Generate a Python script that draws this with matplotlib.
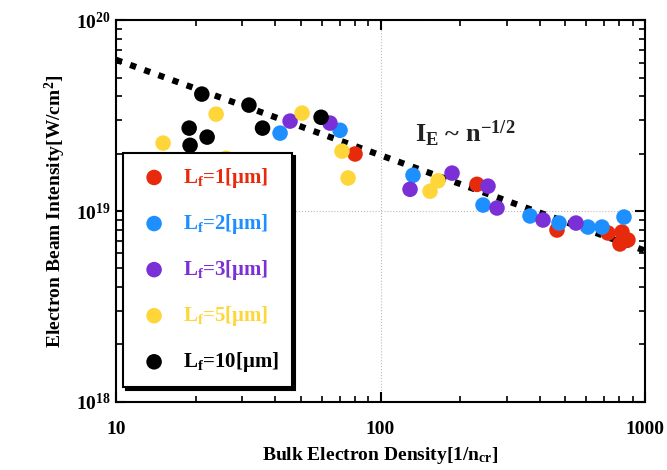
import matplotlib
matplotlib.use("Agg")
import matplotlib.pyplot as plt
import numpy as np

plt.rcParams['font.family'] = ['Liberation Serif', 'DejaVu Serif']
plt.rcParams['font.weight'] = 'bold'
plt.rcParams['mathtext.fontset'] = 'custom'
plt.rcParams['mathtext.rm'] = 'Liberation Serif:bold'
plt.rcParams['mathtext.it'] = 'Liberation Serif:bold'
plt.rcParams['mathtext.bf'] = 'Liberation Serif:bold'

# данные
n_1 = [80.1, 231.6, 464.8, 724.5, 818.6, 862, 804]
i_1 = [1.99e19, 1.38e19, 7.95e18, 7.67e18, 7.76e18, 7.05e18, 6.72e18]

n_2 = [41.7, 70.3, 132.7, 244.1, 367.5, 473, 608.7, 687.8, 833]
i_2 = [2.56e19, 2.65e19, 1.54e19, 1.075e19, 9.42e18, 8.65e18, 8.24e18, 8.24e18, 9.30e18]

n_3 = [45.5, 64.4, 129.3, 186.4, 254.9, 275.7, 411.6, 548.4]
i_3 = [2.96e19, 2.89e19, 1.30e19, 1.58e19, 1.35e19, 1.037e19, 8.97e18, 8.65e18]

n_5 = [15.06, 23.9, 26.05, 50.5, 71.5, 75.4, 153.9, 165]
i_5 = [2.27e19, 3.22e19, 1.89e19, 3.26e19, 2.06e19, 1.49e19, 1.27e19, 1.44e19]

n_10 = [18.9, 19.05, 21.1, 22.1, 31.8, 35.8, 59.6]
i_10 = [2.72e19, 2.21e19, 4.10e19, 2.44e19, 3.59e19, 2.72e19, 3.10e19]

fit_n = [10, 1000]
fit_i = [6.2e19, 6.2e18]

series = [
    (n_1, i_1, '#e82a0c', r'$\mathrm{L_f}$=1[μm]'),
    (n_2, i_2, '#1e8fff', r'$\mathrm{L_f}$=2[μm]'),
    (n_3, i_3, '#7a30d6', r'$\mathrm{L_f}$=3[μm]'),
    (n_5, i_5, '#ffd63a', r'$\mathrm{L_f}$=5[μm]'),
    (n_10, i_10, '#000000', r'$\mathrm{L_f}$=10[μm]'),
]

fig = plt.figure(figsize=(6.67, 4.70), dpi=100)
ax = fig.add_axes([0.174, 0.145, 0.793, 0.812])

ax.plot(fit_n, fit_i, color='black', lw=4.5, linestyle=(0, (1, 1.4)), zorder=2)

for n, i, c, lab in series:
    ax.scatter(n, i, s=125, color=c, edgecolors='none', label=lab, zorder=3)

ax.set_xscale('log')
ax.set_yscale('log')
ax.set_xlim(10, 1000)
ax.set_ylim(1e18, 1e20)

ax.grid(True, which='major', color='#bbbbbb', linestyle=':', lw=0.8)
ax.tick_params(which='both', direction='in', top=True, right=True, labelsize=14)
ax.tick_params(which='major', length=7, width=1.5)
ax.tick_params(which='minor', length=4, width=1.2)
ax.set_xticks([10, 100, 1000])
ax.set_xticklabels(['10', '100', '1000'])
ax.tick_params(axis='x', pad=14)
for s in ax.spines.values():
    s.set_linewidth(1.5)

ax.set_xlabel(r'Bulk Electron Density[1/$\mathrm{n_{cr}}$]', fontsize=14, fontweight='bold', labelpad=5)
ax.set_ylabel(r'Electron Beam Intensity[W/cm$^2$]', fontsize=14, fontweight='bold', labelpad=6)

ax.text(0.565, 0.68, r'$\mathrm{I_E}$ ~ $\mathrm{n^{-1/2}}$', transform=ax.transAxes,
        fontsize=19, fontweight='bold', color='#222222')

leg = ax.legend(loc='upper left', bbox_to_anchor=(0.014, 0.652), fontsize=15,
                frameon=True, fancybox=False, edgecolor='black',
                shadow={'color': 'black', 'alpha': 1}, borderaxespad=0,
                labelspacing=1.06, handletextpad=0.55, borderpad=0.62,
                handlelength=1.7, scatterpoints=1)
leg.get_frame().set_linewidth(1.5)
leg.set_zorder(5)
for t, (_, _, c, _) in zip(leg.get_texts(), series):
    t.set_color(c)

fig.savefig('out.png', dpi=100)
